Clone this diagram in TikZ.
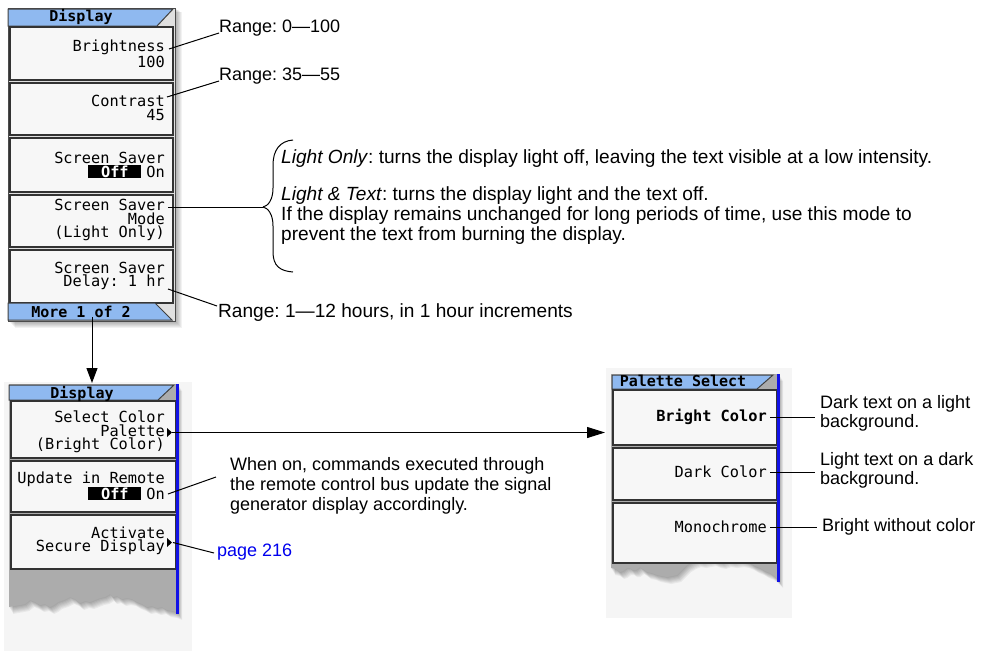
\documentclass[tikz,border=0pt]{standalone}
\usepackage{fontspec}
\setmainfont{Liberation Sans}
\newfontfamily\keyfont{DejaVu Sans Mono}
\usetikzlibrary{arrows.meta}
\frenchspacing
\definecolor{barblue}{RGB}{143,185,240}
\definecolor{keyfill}{RGB}{247,247,247}
\definecolor{screengrey}{RGB}{172,172,172}
\definecolor{edgeblue}{RGB}{18,18,230}
\definecolor{panelbg}{RGB}{245,245,245}
\definecolor{linkblue}{RGB}{0,0,238}
\newcommand\offbox{{\setlength{\fboxsep}{0.5pt}\colorbox{black}{\makebox[52pt]{\textcolor{white}{\bfseries Off}}}}\hspace{5pt}}
\begin{document}
\begin{tikzpicture}[x=1pt,y=-1pt,
  keybox/.style={draw=black!80, line width=1.3pt, fill=keyfill},
  bar/.style={draw=black!75, line width=1pt, fill=barblue},
  keytext/.style={font=\keyfont\fontsize{15.3}{13.5}\selectfont, align=right, inner sep=0pt, anchor=east},
  bartext/.style={font=\keyfont\bfseries\fontsize{15}{15}\selectfont, inner sep=0pt},
  note/.style={font=\fontsize{18}{20}\selectfont, inner sep=0pt, anchor=west, align=left},
  widenote/.style={note, font=\fontsize{19.1}{20}\selectfont},
  lead/.style={line width=1pt},
  marker/.style={fill=black},
  softshadow/.style={fill=black, opacity=0.05}]
\useasboundingbox (0,0) rectangle (988,651);
\fill[white] (0,0) rectangle (988,651);

% ---------- first Display menu ----------
\foreach \d in {1,...,7}
  \path[softshadow] (8+\d,8+0.6*\d) rectangle (175+\d,321+\d);
\path[fill=black!12, draw=black!70, line width=1pt] (8,8) rectangle (175,321);
\path[bar] (8,9) -- (173,9) -- (157,26) -- (8,26) -- cycle;
\path[keybox] (10,27) rectangle (173,80);
\path[keybox] (10,83) rectangle (173,135);
\path[keybox] (10,138) rectangle (173,192);
\path[keybox] (10,195) rectangle (173,247);
\path[keybox] (10,250) rectangle (173,303);
\path[bar] (8,303) -- (155,303) -- (172,320) -- (8,320) -- cycle;

\node[bartext] (title1) at (81,17) {Display};
\node[keytext] (bright) at (165,54) {Brightness\\100};
\node[keytext] (contrast) at (165,108) {Contrast\\45};
\node[keytext] (saver) at (165,165) {Screen Saver\\\offbox On};
\node[keytext] (mode) at (165,220) {Screen Saver\\Mode\\(Light Only)};
\node[keytext] (delay) at (165,276) {Screen Saver\\Delay: 1 hr};
\node[bartext] (more) at (81,312) {More 1 of 2};

% ---------- second Display menu ----------
\fill[panelbg] (4,382) rectangle (192,651);
\def\tornA{(9,384) -- (178,384) -- (178,613) -- (173,611) -- (167,610) -- (162,607) -- (157,608) -- (152,606) -- (147,607)
  -- (142,604) -- (137,602) -- (132,599) -- (127,598) -- (122,599) -- (117,596) -- (113,597) -- (110,594) -- (105,597)
  -- (100,598) -- (95,600) -- (90,602) -- (85,601) -- (80,603) -- (75,599) -- (70,597) -- (64,600) -- (58,602)
  -- (54,605) -- (50,607) -- (45,604) -- (40,605) -- (35,602) -- (30,600) -- (25,604) -- (20,605) -- (14,606) -- (9,607) -- cycle}
\foreach \d in {1,...,7}
  \path[softshadow, shift={(0.6*\d,\d)}] \tornA;
\path[fill=screengrey] \tornA;
\path[bar] (9,385) -- (174,385) -- (158,400) -- (9,400) -- cycle;
\path[keybox] (11,401) rectangle (176,458);
\path[keybox] (11,461) rectangle (176,512);
\path[keybox] (11,515) rectangle (176,569);
\draw[edgeblue, line width=2.5pt] (177.5,384) -- (177.5,614);

\node[bartext] (title2) at (82,394) {Display};
\node[keytext] (palette) at (165,432) {Select Color\\Palette\\(Bright Color)};
\node[keytext] (remote) at (165,486) {Update in Remote\\\offbox On};
\node[keytext] (secure) at (165,541) {Activate\\Secure Display};
\fill[marker] (167,428) -- (172,432.5) -- (167,437) -- cycle;
\fill[marker] (167,538) -- (172,542.5) -- (167,547) -- cycle;
\coordinate (palout) at (172,432.5);
\coordinate (secout) at (173,542.5);

% ---------- Palette Select menu ----------
\fill[panelbg] (606,368) rectangle (792,618);
\def\tornB{(611,374) -- (779,374) -- (779,581) -- (774,576) -- (770,573) -- (765,571) -- (760,568) -- (755,566) -- (750,563)
  -- (745,561) -- (740,560) -- (733,561) -- (727,560) -- (722,562) -- (717,561) -- (712,559) -- (707,560) -- (702,561)
  -- (697,560) -- (692,562) -- (687,565) -- (682,570) -- (677,575) -- (672,576) -- (667,577) -- (662,576) -- (657,575)
  -- (652,573) -- (647,572) -- (643,569) -- (640,567) -- (636,570) -- (633,570) -- (630,568) -- (627,568) -- (623,571)
  -- (620,572) -- (616,569) -- (611,568) -- cycle}
\foreach \d in {1,...,7}
  \path[softshadow, shift={(0.6*\d,\d)}] \tornB;
\path[fill=screengrey] \tornB;
\path[bar] (612,375) -- (773,375) -- (757,389) -- (612,389) -- cycle;
\path[keybox] (613,390) rectangle (777,445);
\path[keybox] (613,448) rectangle (777,500);
\path[keybox] (613,503) rectangle (777,563);
\draw[edgeblue, line width=2.5pt] (778.5,374) -- (778.5,582);

\node[bartext] (title3) at (683,381) {Palette Select};
\node[keytext, font=\keyfont\bfseries\fontsize{15.3}{13.5}\selectfont] (brightc) at (767,417) {Bright Color};
\node[keytext] (darkc) at (767,472) {Dark Color};
\node[keytext] (mono) at (767,527) {Monochrome};

% ---------- annotations ----------
\node[note] (rbright) at (219,28) {Range: 0—100};
\node[note] (rcontrast) at (219,76) {Range: 35—55};
\node[widenote] (lonly) at (281,159) {\textit{Light Only}: turns the display light off, leaving the text visible at a low intensity.};
\node[widenote] (ltext) at (281,216) {\textit{Light \& Text}: turns the display light and the text off.\\If the display remains unchanged for long periods of time, use this mode to\\prevent the text from burning the display.};
\node[widenote] (rdelay) at (218,313) {Range: 1—12 hours, in 1 hour increments};
\node[note] (rremote) at (230,486) {When on, commands executed through\\the remote control bus update the signal\\generator display accordingly.};
\node[note, text=linkblue] (page) at (217,552) {page 216};
\node[note, font=\fontsize{18}{19}\selectfont] (nbright) at (820,413) {Dark text on a light\\background.};
\node[note, font=\fontsize{18}{19}\selectfont] (ndark) at (820,470) {Light text on a dark\\background.};
\node[note] (nmono) at (822,527) {Bright without color};

% ---------- connectors ----------
\coordinate (cb) at (219,33);
\coordinate (cc) at (219,81);
\coordinate (cd) at (217,306);
\coordinate (cr) at (216,477);
\coordinate (cs) at (214,553);
\coordinate (bracetip) at (263,207);
\coordinate (cbc) at (815,417);
\coordinate (cdc) at (815,472);
\coordinate (cmc) at (817,527);
\draw[lead] ([xshift=4pt,yshift=5pt]bright.east) -- (cb);
\draw[lead] ([xshift=2pt,yshift=11pt]contrast.east) -- (cc);
\draw[lead] ([xshift=3pt,yshift=-13pt]delay.east) -- (cd);
\draw[lead] ([xshift=3pt,yshift=13pt]mode.east) -- (bracetip);
\draw[lead] ([xshift=3pt,yshift=-8pt]remote.east) -- (cr);
\draw[lead] (secout) -- (cs);
\draw[lead] (bracetip) .. controls (268,206) and (273,200) .. (273,188) -- (273,165)
  .. controls (273,150) and (280,141) .. (293,140);
\draw[lead] (bracetip) .. controls (268,208) and (273,214) .. (273,226) -- (273,252)
  .. controls (273,266) and (280,271) .. (293,272);
\coordinate (downstart) at (92,317);
\coordinate (downend) at (92,383);
\draw[lead, -{Triangle[length=15pt,width=11pt]}] (downstart) -- (downend);
\coordinate (paltarget) at (605,432.5);
\draw[lead, -{Triangle[length=18pt,width=11pt]}] (palout) -- (paltarget);
\draw[lead] ([xshift=3pt]brightc.east) -- (cbc);
\draw[lead] ([xshift=3pt]darkc.east) -- (cdc);
\draw[lead] ([xshift=3pt]mono.east) -- (cmc);
\end{tikzpicture}
\end{document}
